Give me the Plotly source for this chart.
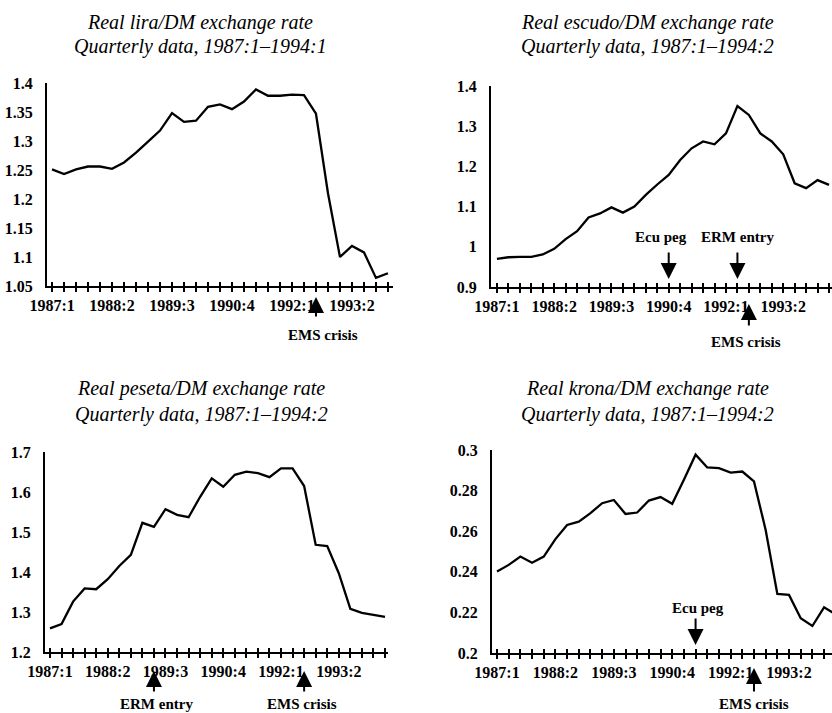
import plotly.graph_objects as go

W, H = 832, 713
FONT = "Liberation Serif"

# ---------------- data ----------------
quarters = [f"{y}:{q}" for y in range(1987, 1995) for q in range(1, 5)][:30]  # 1987:1 .. 1994:2
label_quarters = ["1987:1", "1988:2", "1989:3", "1990:4", "1992:1", "1993:2"]

lira = [1.251, 1.243, 1.251, 1.256, 1.256, 1.252, 1.263, 1.280, 1.299, 1.318,
        1.348, 1.333, 1.335, 1.359, 1.363, 1.355, 1.368, 1.389, 1.378, 1.378,
        1.380, 1.379, 1.347, 1.210, 1.100, 1.119, 1.108, 1.064, 1.072]  # 1987:1-1994:1

escudo = [0.970, 0.974, 0.975, 0.975, 0.981, 0.995, 1.019, 1.039, 1.073, 1.083,
          1.098, 1.085, 1.100, 1.129, 1.155, 1.179, 1.216, 1.245, 1.262, 1.255,
          1.282, 1.350, 1.328, 1.282, 1.262, 1.230, 1.158, 1.146, 1.166, 1.154]

peseta = [1.259, 1.270, 1.326, 1.359, 1.357, 1.382, 1.415, 1.443, 1.523, 1.513,
          1.557, 1.543, 1.537, 1.588, 1.634, 1.613, 1.643, 1.651, 1.647, 1.637,
          1.659, 1.659, 1.615, 1.468, 1.465, 1.397, 1.308, 1.298, 1.293, 1.288]

krona = [0.2401, 0.2434, 0.2475, 0.2445, 0.2475, 0.2561, 0.2631, 0.2647, 0.2689, 0.2738,
         0.2754, 0.2685, 0.2692, 0.2751, 0.2768, 0.2735, 0.2853, 0.2977, 0.2914, 0.2911,
         0.2889, 0.2894, 0.2845, 0.2606, 0.2291, 0.2286, 0.2171, 0.2133, 0.2225, 0.2190]

lira_yticks = [1.05, 1.1, 1.15, 1.2, 1.25, 1.3, 1.35, 1.4]
escudo_yticks = [0.9, 1.0, 1.1, 1.2, 1.3, 1.4]
peseta_yticks = [1.2, 1.3, 1.4, 1.5, 1.6, 1.7]
krona_yticks = [0.2, 0.22, 0.24, 0.26, 0.28, 0.3]

titles = ["Real lira/DM exchange rate", "Real escudo/DM exchange rate",
          "Real peseta/DM exchange rate", "Real krona/DM exchange rate"]
subtitles = ["Quarterly data, 1987:1–1994:1", "Quarterly data, 1987:1–1994:2",
             "Quarterly data, 1987:1–1994:2", "Quarterly data, 1987:1–1994:2"]

# events: (panel, quarter, label)
events = [
    (0, "1992:3", "EMS crisis"),
    (1, "1990:4", "Ecu peg"),
    (1, "1992:2", "ERM entry"),
    (1, "1992:3", "EMS crisis"),
    (2, "1989:2", "ERM entry"),
    (2, "1992:3", "EMS crisis"),
    (3, "1991:2", "Ecu peg"),
    (3, "1992:3", "EMS crisis"),
]

# ---------------- layout geometry (pixels) ----------------
panels = [
    dict(vals=lira, yticks=lira_yticks,
         px=(47, 393), py=(83, 286), xr=(-0.42, 28.42), tx=200, ty=(23, 47)),
    dict(vals=escudo, yticks=escudo_yticks,
         px=(491, 832), py=(86, 287), xr=(-0.52, 29.26), tx=647, ty=(23, 47)),
    dict(vals=peseta, yticks=peseta_yticks,
         px=(45, 388), py=(452, 652), xr=(-0.43, 29.26), tx=201, ty=(388, 414)),
    dict(vals=krona, yticks=krona_yticks,
         px=(492, 832), py=(450, 653), xr=(-0.43, 28.68), tx=647, ty=(388, 414)),
]

# event annotation geometry: (tip_y, tail_y, text_x, text_y)
event_geom = [
    (297, 318, 323, 335),
    (279, 251, 661, 237),
    (279, 251, 737, 237),
    (304, 327, 746, 342),
    (671, 693, 156, 704),
    (671, 693, 302, 704),
    (645, 617, 698, 608),
    (668, 693, 754, 704),
]


def pxx(x):
    return x / W


def pxy(y):
    return 1 - y / H


fig = go.Figure()
layout = dict(width=W, height=H, margin=dict(l=0, r=0, t=0, b=0, autoexpand=False),
              paper_bgcolor="white", plot_bgcolor="white", showlegend=False,
              font=dict(family=FONT, color="black", size=15))
annotations = []

for i, p in enumerate(panels):
    n = i + 1
    ov = i + 5
    q = quarters[:len(p["vals"])]
    fig.add_trace(go.Scatter(x=q, y=p["vals"], mode="lines",
                             line=dict(color="black", width=2.3),
                             xaxis=f"x{n}", yaxis=f"y{n}", hoverinfo="skip"))
    fig.add_trace(go.Scatter(x=q, y=p["vals"], mode="lines", opacity=0,
                             line=dict(color="black", width=0),
                             xaxis=f"x{ov}", yaxis=f"y{n}", hoverinfo="skip"))
    ticktext = [s if s in label_quarters else "" for s in q]
    xdom = [pxx(p["px"][0]), pxx(p["px"][1])]
    ydom = [pxy(p["py"][1]), pxy(p["py"][0])]
    common_x = dict(type="category", categoryorder="array", categoryarray=quarters,
                    range=list(p["xr"]), domain=xdom, anchor=f"y{n}", automargin=False,
                    showgrid=False, zeroline=False, fixedrange=True)
    layout[f"xaxis{n}"] = dict(**common_x, showline=True, linecolor="black", linewidth=2,
                               ticks="outside", ticklen=4, tickwidth=1.5, tickcolor="black",
                               tickmode="array", tickvals=q, ticktext=ticktext,
                               tickfont=dict(family=FONT, size=16, color="black", weight="bold"))
    layout[f"xaxis{ov}"] = dict(**common_x, overlaying=f"x{n}", showline=False,
                                ticks="inside", ticklen=4, tickwidth=1.5, tickcolor="black",
                                tickmode="array", tickvals=q, showticklabels=False)
    layout[f"yaxis{n}"] = dict(domain=ydom, anchor=f"x{n}", range=[p["yticks"][0], p["yticks"][-1]],
                               showline=True, linecolor="black", linewidth=2, automargin=False,
                               ticks="", showgrid=False, zeroline=False,
                               tickmode="array", tickvals=p["yticks"],
                               ticktext=[f"{v:g}" for v in p["yticks"]],
                               ticklabelstandoff=9,
                               tickfont=dict(family=FONT, size=16, color="black", weight="bold"),
                               fixedrange=True)
    for txt, ty in ((titles[i], p["ty"][0]), (subtitles[i], p["ty"][1])):
        annotations.append(dict(text=txt, xref="paper", yref="paper",
                                x=pxx(p["tx"]), y=pxy(ty), xanchor="center", yanchor="middle",
                                showarrow=False,
                                font=dict(family=FONT, size=20, style="italic", color="black")))

for (pi, qtr, label), (tip, tail, txx, txy) in zip(events, event_geom):
    n = pi + 1
    annotations.append(dict(text="", xref=f"x{n}", yref="paper", x=qtr, y=pxy(tip),
                            axref="pixel", ayref="pixel", ax=0, ay=tail - tip,
                            showarrow=True, arrowhead=2, arrowsize=1.6, arrowwidth=2,
                            arrowcolor="black", standoff=0, startstandoff=0))
    annotations.append(dict(text=label, xref="paper", yref="paper", x=pxx(txx), y=pxy(txy),
                            xanchor="center", yanchor="middle", showarrow=False,
                            font=dict(family=FONT, size=15, color="black", weight="bold")))

layout["annotations"] = annotations
fig.update_layout(**layout)
fig.write_html("out.html", config={"displayModeBar": False},
               post_script="document.body.style.margin='0';document.body.style.overflow='hidden';")
